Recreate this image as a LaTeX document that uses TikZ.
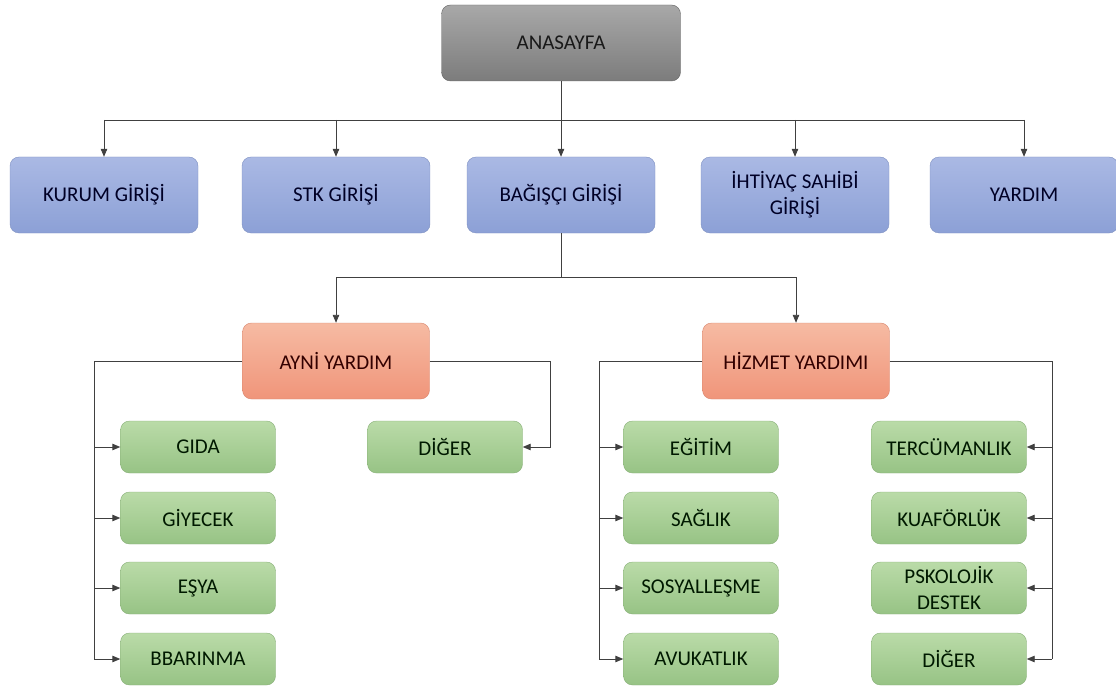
\documentclass[tikz,border=0pt]{standalone}
\usepackage{fontspec}
\setmainfont{Carlito}
\usetikzlibrary{arrows.meta, positioning}
\definecolor{linec}{HTML}{404040}
\definecolor{greytop}{HTML}{A8A8A8}
\definecolor{greybot}{HTML}{7C7C7C}
\definecolor{bluetop}{HTML}{AAB9E4}
\definecolor{bluebot}{HTML}{8CA0D6}
\definecolor{orangetop}{HTML}{F6BBA3}
\definecolor{orangebot}{HTML}{F0957A}
\definecolor{greentop}{HTML}{BADBA8}
\definecolor{greenbot}{HTML}{97C385}

\begin{document}
\begin{tikzpicture}[x=1pt,y=-1pt,
	box/.style={rounded corners=9pt, align=center, inner sep=0pt,
		font=\fontsize{21}{26}\selectfont},
	mainbox/.style={box, top color=greytop, bottom color=greybot, draw=greybot!80!black,
		minimum width=239pt, minimum height=76pt, text=black!90},
	loginbox/.style={box, top color=bluetop, bottom color=bluebot, draw=bluebot!90!black,
		minimum width=188pt, minimum height=76pt, text=blue!15!black},
	typebox/.style={box, top color=orangetop, bottom color=orangebot, draw=orangebot!90!black,
		minimum width=187pt, minimum height=76pt, text=red!20!black},
	itembox/.style={box, top color=greentop, bottom color=greenbot, draw=greenbot!90!black,
		minimum width=155pt, minimum height=52pt, text=green!10!black},
	link/.style={draw=linec, line width=0.9pt},
	arr/.style={link, -{Triangle[length=8pt,width=6.5pt]}}]
	\useasboundingbox (0,0) rectangle (1116,687);
	\node[mainbox] (ana) at (561,43) {ANASAYFA};
	\node[loginbox] (kurum) at (104,195) {KURUM GİRİŞİ};
	\node[loginbox] (stk) at (336,195) {STK GİRİŞİ};
	\node[loginbox] (bagisci) at (561,195) {BAĞIŞÇI GİRİŞİ};
	\node[loginbox] (ihtiyac) at (795,195) {İHTİYAÇ SAHİBİ\\GİRİŞİ};
	\node[loginbox] (yardim) at (1024,195) {YARDIM};
	\node[typebox] (ayni) at (336,361) {AYNİ YARDIM};
	\node[typebox] (hizmet) at (796,361) {HİZMET YARDIMI};
	\node[itembox] (gida) at (198,447) {GIDA};
	\node[itembox] (giyecek) at (198,518) {GİYECEK};
	\node[itembox] (esya) at (198,588) {EŞYA};
	\node[itembox] (barinma) at (198,659) {BBARINMA};
	\node[itembox] (aynidiger) at (445,447) {DİĞER};
	\node[itembox] (egitim) at (701,447) {EĞİTİM};
	\node[itembox] (saglik) at (701,518) {SAĞLIK};
	\node[itembox] (sosyal) at (701,588) {SOSYALLEŞME};
	\node[itembox] (avukat) at (701,659) {AVUKATLIK};
	\node[itembox] (tercuman) at (949,447) {TERCÜMANLIK};
	\node[itembox] (kuafor) at (949,518) {KUAFÖRLÜK};
	\node[itembox] (psiko) at (949,588) {PSKOLOJİK\\DESTEK};
	\node[itembox] (hizdiger) at (949,659) {DİĞER};
	\coordinate (bus1) at (561,120);
	\coordinate (bus2) at (561,277);
	\coordinate (aynil) at (94,361);
	\coordinate (aynir) at (550,361);
	\coordinate (hizl) at (599,361);
	\coordinate (hizr) at (1052,361);
	\draw[link] (ana) -- (bus1);
	\draw[link] (bus1 -| kurum) -- (bus1 -| yardim);
	\foreach \n in {kurum,stk,bagisci,ihtiyac,yardim}
		\draw[arr] (bus1 -| \n) -- (\n.north);
	\draw[link] (bagisci) -- (bus2);
	\draw[link] (bus2 -| ayni) -- (bus2 -| hizmet);
	\foreach \n in {ayni,hizmet}
		\draw[arr] (bus2 -| \n) -- (\n.north);
	\draw[link] (ayni.west) -- (aynil) -- (aynil |- barinma);
	\foreach \n in {gida,giyecek,esya,barinma}
		\draw[arr] (aynil |- \n) -- (\n.west);
	\draw[arr] (ayni.east) -- (aynir) |- (aynidiger.east);
	\draw[link] (hizmet.west) -- (hizl) -- (hizl |- avukat);
	\foreach \n in {egitim,saglik,sosyal,avukat}
		\draw[arr] (hizl |- \n) -- (\n.west);
	\draw[link] (hizmet.east) -- (hizr) -- (hizr |- hizdiger);
	\foreach \n in {tercuman,kuafor,psiko,hizdiger}
		\draw[arr] (hizr |- \n) -- (\n.east);
\end{tikzpicture}
\end{document}
